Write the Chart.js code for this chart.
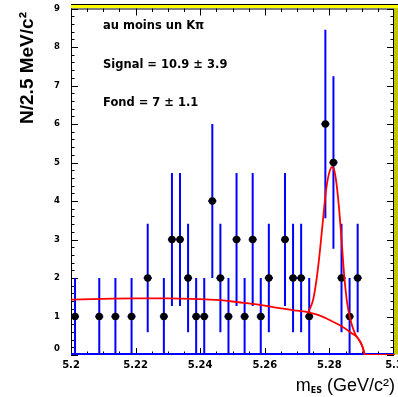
<!DOCTYPE html>
<html>
<head>
<meta charset="utf-8">
<script src="https://cdn.jsdelivr.net/npm/chart.js@4.4.0/dist/chart.umd.min.js"></script>
<style>
    body { margin: 0; background: #ffffff; }
    #wrap { width: 398px; height: 397px; position: relative; }
</style>
</head>
<body>
<div id="wrap"><canvas id="mes-chart"></canvas></div>
<script>
// histogram bins (2.5 MeV wide), only the non-empty ones
const binCenters = [5.20125, 5.20875, 5.21375, 5.21875, 5.22375, 5.22875, 5.23125, 5.23375,
    5.23625, 5.23875, 5.24125, 5.24375, 5.24625, 5.24875, 5.25125, 5.25375, 5.25625, 5.25875,
    5.26125, 5.26625, 5.26875, 5.27125, 5.27375, 5.27875, 5.28125, 5.28375, 5.28625, 5.28875];
const counts = [1, 1, 1, 1, 2, 1, 3, 3,
    2, 1, 1, 4, 2, 1, 3, 1, 3, 1,
    2, 3, 2, 2, 1, 6, 5, 2, 1, 2];
const countErrors = [1, 1, 1, 1, 1.41, 1, 1.73, 1.73,
    1.41, 1, 1, 2, 1.41, 1, 1.73, 1, 1.73, 1,
    1.41, 1.73, 1.41, 1.41, 1, 2.45, 2.24, 1.41, 1, 1.41];
const binHalfWidth = 0.00125;

// fitted curves
const bkgMass = [5.2, 5.21, 5.22, 5.23, 5.24, 5.245, 5.25, 5.255, 5.26, 5.265, 5.27, 5.2735,
    5.2765, 5.2805, 5.2845, 5.2875, 5.2885, 5.2895, 5.2903, 5.291, 5.3];
const bkgValues = [1.44, 1.46, 1.47, 1.47, 1.45, 1.43, 1.39, 1.34, 1.28, 1.21, 1.15, 1.11,
    1.04, 0.89, 0.71, 0.53, 0.47, 0.35, 0.2, 0, 0];
const totalMass = [5.2735, 5.275, 5.276, 5.277, 5.278, 5.279, 5.28, 5.2808, 5.2815, 5.2822,
    5.283, 5.2838, 5.2846, 5.2855, 5.2865, 5.2877, 5.2885, 5.2895, 5.2903, 5.291];
const totalValues = [1.11, 1.45, 1.95, 2.65, 3.5, 4.3, 4.75, 4.88, 4.8, 4.45,
    3.8, 2.95, 2.05, 1.35, 0.92, 0.6, 0.47, 0.35, 0.2, 0];

const xTicks = [5.2, 5.22, 5.24, 5.26, 5.28, 5.3];
const xTickLabels = ["5.2", "5.22", "5.24", "5.26", "5.28", "5.3"];
const yTicks = [0, 1, 2, 3, 4, 5, 6, 7, 8, 9];
const infoLines = ["au moins un K\u03c0", "Signal = 10.9 \u00b1 3.9", "Fond = 7 \u00b1 1.1"];

const histPoints = binCenters.map((m, i) => ({ x: m, y: counts[i] }));
const bkgPoints = bkgMass.map((m, i) => ({ x: m, y: bkgValues[i] }));
const totalPoints = totalMass.map((m, i) => ({ x: m, y: totalValues[i] }));

// frame, ticks, labels and error bars, ROOT style
const rootFrame = {
    id: "rootFrame",
    beforeDatasetsDraw(chart) {
        const ctx = chart.ctx;
        const a = chart.chartArea;
        const xs = chart.scales.x;
        const ys = chart.scales.y;
        ctx.save();

        // frame
        ctx.strokeStyle = "#000";
        ctx.lineWidth = 1;
        ctx.strokeRect(a.left + 0.5, a.top + 0.5, a.right - a.left - 1, a.bottom - a.top - 1);

        // x ticks (bottom + top), major every 0.02, minor every 0.005
        ctx.beginPath();
        for (let i = 0; i <= 20; i++) {
            const v = 5.2 + i * 0.005;
            const px = Math.round(xs.getPixelForValue(v)) + 0.5;
            const len = i % 4 === 0 ? 7 : 3.5;
            ctx.moveTo(px, a.bottom);
            ctx.lineTo(px, a.bottom - len);
            ctx.moveTo(px, a.top);
            ctx.lineTo(px, a.top + len);
        }
        // y ticks (left + right), major every 1, minor every 0.2
        for (let i = 0; i <= 45; i++) {
            const py = Math.round(ys.getPixelForValue(i * 0.2)) + 0.5;
            const len = i % 5 === 0 ? 7 : 3.5;
            ctx.moveTo(a.left, py);
            ctx.lineTo(a.left + len, py);
            ctx.moveTo(a.right, py);
            ctx.lineTo(a.right - len, py);
        }
        ctx.stroke();

        // tick labels
        ctx.fillStyle = "#000";
        ctx.font = "bold 10px 'DejaVu Sans'";
        ctx.textAlign = "center";
        ctx.textBaseline = "alphabetic";
        xTicks.forEach((v, i) => {
            ctx.fillText(xTickLabels[i], xs.getPixelForValue(v), 368);
        });
        ctx.font = "bold 8.5px 'DejaVu Sans'";
        ctx.textAlign = "right";
        ctx.textBaseline = "middle";
        yTicks.forEach((v) => {
            let py = ys.getPixelForValue(v);
            if (v === 0) py -= 6;
            ctx.fillText(String(v), 60, py);
        });

        // axis titles
        ctx.save();
        ctx.translate(27.5, 68);
        ctx.rotate(-Math.PI / 2);
        ctx.font = "bold 19px 'Liberation Sans'";
        ctx.textAlign = "center";
        ctx.textBaseline = "middle";
        ctx.fillText("N/2.5 MeV/c\u00b2", 0, 0);
        ctx.restore();

        const big = "18px 'Liberation Sans'";
        const sub = "bold 8px 'DejaVu Sans'";
        ctx.textAlign = "left";
        ctx.textBaseline = "alphabetic";
        ctx.font = big;
        const wM = ctx.measureText("m").width;
        const wRest = ctx.measureText(" (GeV/c\u00b2)").width;
        ctx.font = sub;
        const wSub = ctx.measureText("ES").width;
        let tx = 395 - (wM + wSub + wRest);
        ctx.font = big;
        ctx.fillText("m", tx, 391);
        tx += wM;
        ctx.font = sub;
        ctx.fillText("ES", tx, 393);
        tx += wSub;
        ctx.font = big;
        ctx.fillText(" (GeV/c\u00b2)", tx, 391);

        // info text
        ctx.font = "bold 11.5px 'DejaVu Sans'";
        ctx.fillText(infoLines[0], 103, 28.5);
        ctx.fillText(infoLines[1], 103, 67.5);
        ctx.fillText(infoLines[2], 103, 106);

        // empty bins sit on the zero line
        ctx.strokeStyle = "#0000ff";
        ctx.lineWidth = 2;
        ctx.beginPath();
        ctx.moveTo(a.left, ys.getPixelForValue(0) - 1);
        ctx.lineTo(a.right, ys.getPixelForValue(0) - 1);
        ctx.stroke();

        // error bars
        ctx.beginPath();
        binCenters.forEach((m, i) => {
            const px = xs.getPixelForValue(m);
            ctx.moveTo(px, ys.getPixelForValue(counts[i] - countErrors[i]));
            ctx.lineTo(px, ys.getPixelForValue(counts[i] + countErrors[i]));
            const py = ys.getPixelForValue(counts[i]);
            ctx.moveTo(xs.getPixelForValue(m - binHalfWidth), py);
            ctx.lineTo(xs.getPixelForValue(m + binHalfWidth), py);
        });
        ctx.stroke();
        ctx.restore();
    },
    afterDraw(chart) {
        const ctx = chart.ctx;
        const a = chart.chartArea;
        ctx.save();
        // yellow highlight on top and right of the frame
        ctx.fillStyle = "#000";
        ctx.fillRect(a.left, a.top - 4.5, chart.width - a.left, 1);
        ctx.fillStyle = "#ffff00";
        ctx.fillRect(a.left, a.top - 3.5, chart.width - a.left, 3);
        ctx.fillStyle = "#c4c400";
        ctx.fillRect(a.right, a.top - 0.5, chart.width - a.right, a.bottom - a.top);
        ctx.restore();
    }
};

new Chart(document.getElementById("mes-chart"), {
    type: "scatter",
    data: {
        datasets: [
            {
                label: "total",
                type: "line",
                data: totalPoints,
                borderColor: "#ff0000",
                borderWidth: 1.8,
                pointRadius: 0,
                fill: false,
                cubicInterpolationMode: "monotone",
                order: 1,
            },
            {
                label: "fond",
                type: "line",
                data: bkgPoints,
                borderColor: "#ff0000",
                borderWidth: 1.8,
                pointRadius: 0,
                fill: false,
                cubicInterpolationMode: "monotone",
                order: 1,
            },
            {
                label: "data",
                data: histPoints,
                backgroundColor: "#000000",
                borderColor: "#000000",
                borderWidth: 0,
                pointRadius: 3.7,
                order: 2,
            },
        ],
    },
    options: {
        responsive: true,
        maintainAspectRatio: false,
        animation: false,
        layout: { padding: { left: 71, right: 2, top: 8.5, bottom: 42 } },
        plugins: {
            legend: { display: false },
            tooltip: { enabled: false },
        },
        scales: {
            x: { type: "linear", min: 5.2, max: 5.3, display: false },
            y: { type: "linear", min: 0, max: 9, display: false },
        },
    },
    plugins: [rootFrame],
});
</script>
</body>
</html>
